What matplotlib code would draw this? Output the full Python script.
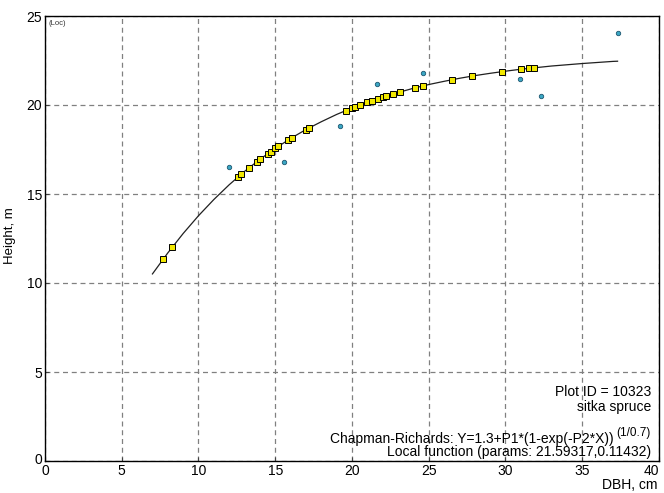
import matplotlib
matplotlib.use('Agg')
import matplotlib.pyplot as plt
from matplotlib.transforms import ScaledTranslation

plt.rcParams['font.family'] = ['Liberation Sans', 'DejaVu Sans']

# fitted curve
curve_dbh = [7, 8, 9, 10, 11, 12, 13, 14, 15, 16, 17, 18, 19, 20, 21, 22,
             23, 24, 25, 26, 27, 28, 29, 30, 31, 32, 33, 34, 35, 36, 37, 37.3]
curve_h = [10.51, 11.69, 12.78, 13.78, 14.69, 15.52, 16.27, 16.95, 17.56, 18.12,
           18.62, 19.06, 19.47, 19.83, 20.15, 20.44, 20.70, 20.94, 21.15, 21.33,
           21.50, 21.65, 21.78, 21.90, 22.01, 22.10, 22.19, 22.26, 22.33, 22.39,
           22.45, 22.46]

# predicted heights (yellow squares)
pred_dbh = [7.7, 8.3, 12.6, 12.8, 13.3, 13.8, 14.0, 14.5, 14.7, 15.0, 15.2, 15.8,
            16.1, 17.0, 17.2, 19.6, 20.0, 20.2, 20.5, 21.0, 21.3, 21.7, 22.0, 22.2,
            22.7, 23.1, 24.1, 24.6, 26.5, 27.8, 29.75, 31.0, 31.55, 31.85]
pred_h = [11.35, 12.02, 15.97, 16.12, 16.47, 16.81, 16.95, 17.26, 17.38, 17.56,
          17.67, 18.01, 18.17, 18.62, 18.71, 19.69, 19.83, 19.89, 19.99, 20.15,
          20.24, 20.35, 20.44, 20.49, 20.62, 20.72, 20.96, 21.07, 21.42, 21.62,
          21.87, 22.01, 22.06, 22.09]

# measured heights (blue dots)
obs_dbh = [11.97, 15.54, 19.24, 21.62, 24.61, 30.95, 32.34, 37.32]
obs_h = [16.5, 16.81, 18.8, 21.16, 21.82, 21.44, 20.5, 24.03]

fig = plt.figure(figsize=(6.64, 4.93), dpi=100)
ax = fig.add_axes([45/664, 1 - 461/493, 614/664, 445/493])

ax.plot(curve_dbh, curve_h, color='#202020', lw=0.9, zorder=2)
ax.plot(obs_dbh, obs_h, 'o', ms=3.2, mfc='#3ba7c4', mec='#1d5670', mew=0.6, zorder=3)
ax.plot(pred_dbh, pred_h, 's', ms=4.2, mfc='#f2e800', mec='#000000', mew=0.7, zorder=4)

ax.set_xlim(0, 40)
ax.set_ylim(0, 25)
ax.set_xticks(range(0, 41, 5))
ax.set_yticks(range(0, 26, 5))
ax.grid(True, color='#808080', linestyle=(0, (4, 3)), lw=0.9)
ax.tick_params(direction='in', length=3, labelsize=10, pad=2, color='#404040')
for s in ax.spines.values():
    s.set_linewidth(1.0)
    s.set_color('black')
# last x label sits flush against the right edge, as in the original
ax.get_xticklabels()[-1].set_horizontalalignment('right')
# bottom y label nudged up a little
lab0 = ax.get_yticklabels()[0]
lab0.set_transform(lab0.get_transform() + ScaledTranslation(0, 3/100, fig.dpi_scale_trans))

fig.text(10/664, 1 - 236/493, 'Height, m', rotation=90, ha='center', va='center', fontsize=9.5)
fig.text(658/664, 1 - 485/493, 'DBH, cm', ha='right', va='center', fontsize=10)
ax.text(0.25, 24.6, '(Loc)', fontsize=5.5, ha='left', va='center', color='#333333')

ax.text(39.5, 3.88, 'Plot ID = 10323', ha='right', va='center', fontsize=10)
ax.text(39.5, 3.03, 'sitka spruce', ha='right', va='center', fontsize=10)
ax.text(37.05, 1.24, 'Chapman-Richards: Y=1.3+P1*(1-exp(-P2*X))', ha='right', va='center', fontsize=10)
ax.text(37.2, 1.55, '(1/0.7)', ha='left', va='center', fontsize=8.5)
ax.text(39.5, 0.51, 'Local function (params: 21.59317,0.11432)', ha='right', va='center', fontsize=10)

fig.savefig('out.png', dpi=100)
